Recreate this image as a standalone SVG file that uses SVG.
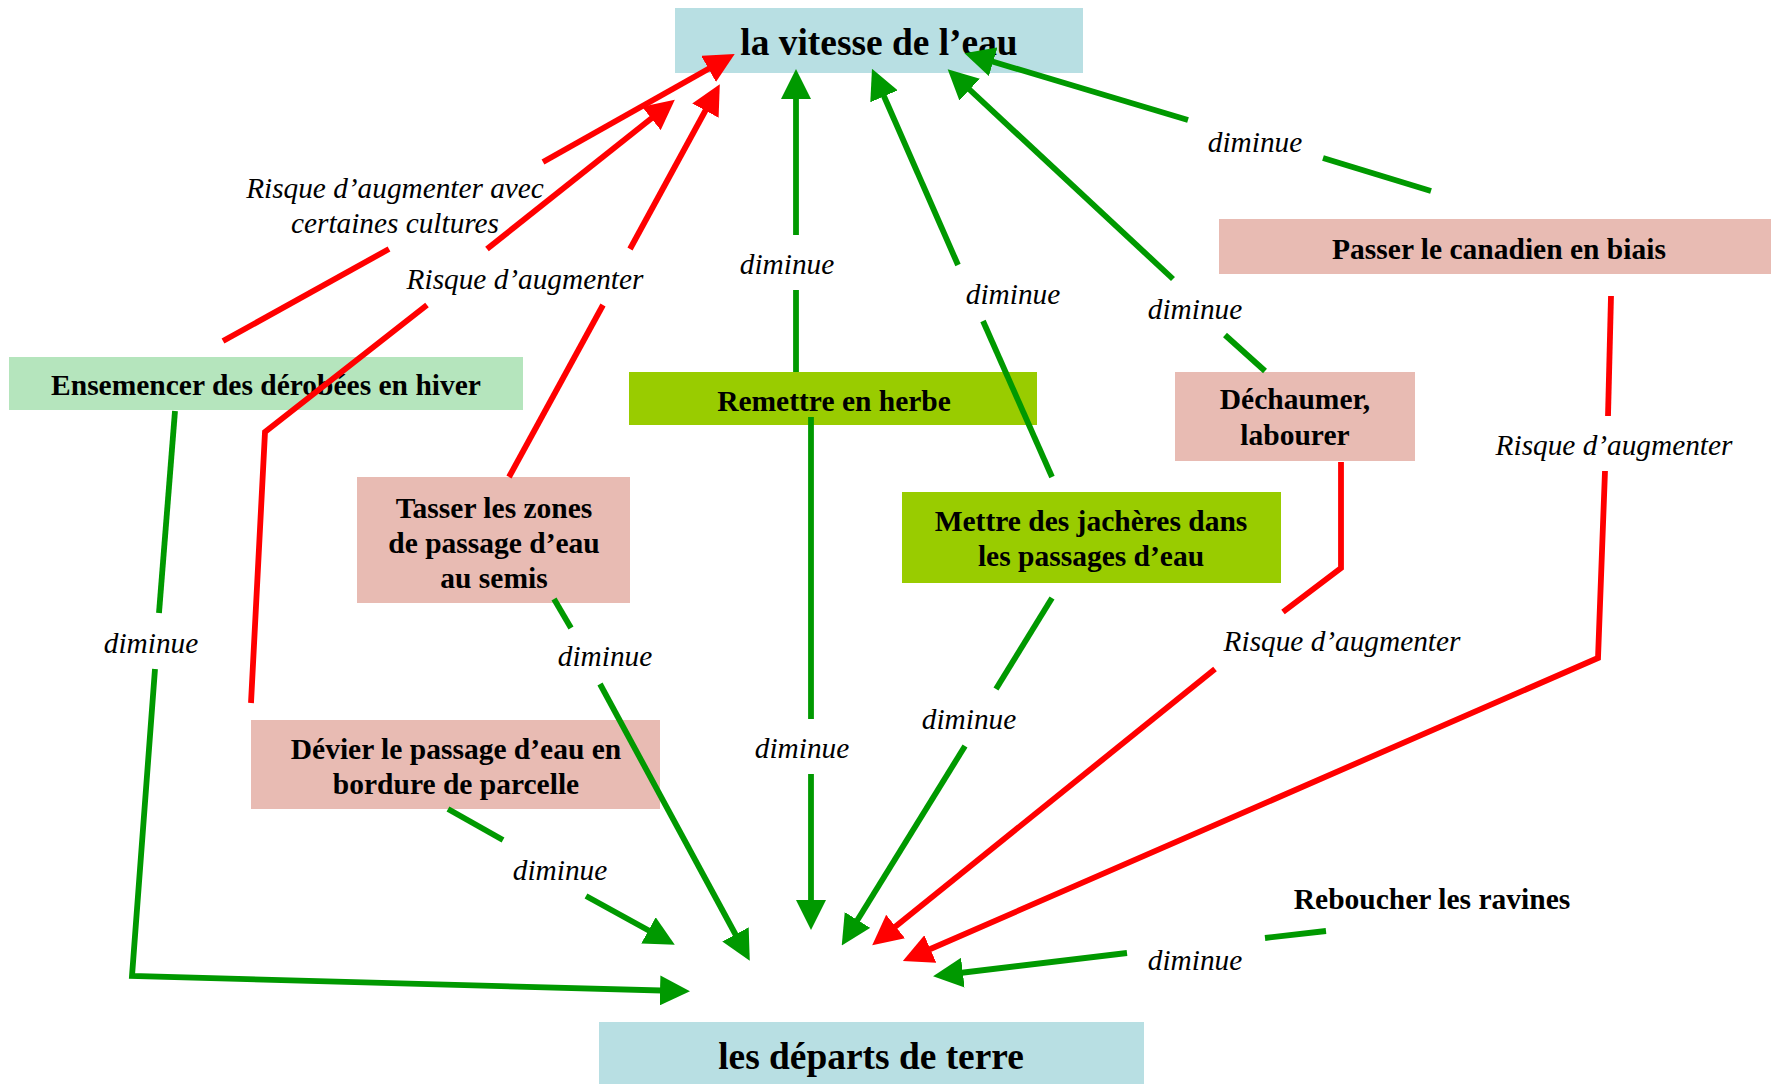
<svg xmlns="http://www.w3.org/2000/svg" width="1771" height="1084" viewBox="0 0 1771 1084">
  <style>
    .node-text { font-family: "Liberation Serif", "Times New Roman", serif; font-weight: bold; font-size: 29.5px; fill: #000; text-anchor: middle; }
    .main-text { font-family: "Liberation Serif", "Times New Roman", serif; font-weight: bold; font-size: 37.4px; fill: #000; text-anchor: middle; }
    .lbl { font-family: "Liberation Serif", "Times New Roman", serif; font-style: italic; font-size: 29.3px; fill: #000; text-anchor: middle; }
    .blue { fill: #B8DFE3; }
    .pink { fill: #E8BBB3; }
    .lgreen { fill: #B5E5BD; }
    .ygreen { fill: #99CC00; }
    .g { fill: none; stroke: #009900; stroke-width: 5.8; }
    .r { fill: none; stroke: #FF0000; stroke-width: 5.8; }
    .ga { marker-end: url(#ag); }
    .ra { marker-end: url(#ar); }
  </style>
  <defs>
    <marker id="ag" markerUnits="userSpaceOnUse" markerWidth="30" markerHeight="30" viewBox="0 0 30 30" refX="20" refY="15" orient="auto">
      <path d="M0,0 L30,15 L0,30 z" fill="#009900"/>
    </marker>
    <marker id="ar" markerUnits="userSpaceOnUse" markerWidth="30" markerHeight="30" viewBox="0 0 30 30" refX="20" refY="15" orient="auto">
      <path d="M0,0 L30,15 L0,30 z" fill="#FF0000"/>
    </marker>
  </defs>
  <rect width="1771" height="1084" fill="#FFFFFF"/>

  <g id="node-vitesse">
    <rect class="blue" x="675" y="8" width="408" height="65"/>
    <text class="main-text" x="879" y="55">la vitesse de l’eau</text>
  </g>
  <g id="node-departs">
    <rect class="blue" x="599" y="1022" width="545" height="62"/>
    <text class="main-text" x="871" y="1069">les départs de terre</text>
  </g>
  <g id="node-ensemencer">
    <rect class="lgreen" x="9" y="357" width="514" height="53"/>
    <text class="node-text" x="266" y="395">Ensemencer des dérobées en hiver</text>
  </g>
  <g id="node-remettre">
    <rect class="ygreen" x="629" y="372" width="408" height="53"/>
    <text class="node-text" x="834" y="411">Remettre en herbe</text>
  </g>
  <g id="node-tasser">
    <rect class="pink" x="357" y="477" width="273" height="126"/>
    <text class="node-text" x="494" y="518">Tasser les zones</text>
    <text class="node-text" x="494" y="553">de passage d’eau</text>
    <text class="node-text" x="494" y="588">au semis</text>
  </g>
  <g id="node-devier">
    <rect class="pink" x="251" y="720" width="409" height="89"/>
    <text class="node-text" x="456" y="759">Dévier le passage d’eau en</text>
    <text class="node-text" x="456" y="794">bordure de parcelle</text>
  </g>
  <g id="node-jacheres">
    <rect class="ygreen" x="902" y="492" width="379" height="91"/>
    <text class="node-text" x="1091" y="531">Mettre des jachères dans</text>
    <text class="node-text" x="1091" y="566">les passages d’eau</text>
  </g>
  <g id="node-dechaumer">
    <rect class="pink" x="1175" y="372" width="240" height="89"/>
    <text class="node-text" x="1295" y="409">Déchaumer,</text>
    <text class="node-text" x="1295" y="445">labourer</text>
  </g>
  <g id="node-canadien">
    <rect class="pink" x="1219" y="219" width="552" height="55"/>
    <text class="node-text" x="1499" y="259">Passer le canadien en biais</text>
  </g>
  <g id="node-reboucher">
    <text class="node-text" x="1432" y="909">Reboucher les ravines</text>
  </g>

  <g id="connectors">
    <!-- Ensemencer -> vitesse (red) -->
    <path class="r" d="M223,341 L389,249"/>
    <path class="r ra" d="M543,162 L726,59"/>
    <text class="lbl" x="395" y="198">Risque d’augmenter avec</text>
    <text class="lbl" x="395" y="233">certaines cultures</text>
    <!-- Devier -> vitesse (red) -->
    <path class="r" d="M251,703 L265,432 L427,305"/>
    <path class="r ra" d="M487,249 L667,106"/>
    <!-- Tasser -> vitesse (red) -->
    <path class="r" d="M509,477 L603,305"/>
    <path class="r ra" d="M630,249 L715,93"/>
    <text class="lbl" x="525" y="289">Risque d’augmenter</text>
    <!-- Remettre -> vitesse -->
    <path class="g" d="M796,372 L796,290"/>
    <path class="g ga" d="M796,235 L796,79"/>
    <text class="lbl" x="787" y="274">diminue</text>
    <!-- Remettre -> departs -->
    <path class="g" d="M811,417 L811,719"/>
    <path class="g ga" d="M811,774 L811,920"/>
    <text class="lbl" x="802" y="758">diminue</text>
    <!-- Jacheres -> vitesse -->
    <path class="g" d="M1052,477 L983,321"/>
    <path class="g ga" d="M958,265 L876,78"/>
    <text class="lbl" x="1013" y="304">diminue</text>
    <!-- Dechaumer -> vitesse -->
    <path class="g" d="M1265,371 L1225,335"/>
    <path class="g ga" d="M1173,279 L955,76"/>
    <text class="lbl" x="1195" y="319">diminue</text>
    <!-- Canadien -> vitesse -->
    <path class="g" d="M1431,191 L1323,158"/>
    <path class="g ga" d="M1188,120 L974,56"/>
    <text class="lbl" x="1255" y="152">diminue</text>
    <!-- Ensemencer -> departs -->
    <path class="g" d="M175,411 L159,613"/>
    <path class="g ga" d="M155,669 L132,976 L680,991"/>
    <text class="lbl" x="151" y="653">diminue</text>
    <!-- Tasser -> departs -->
    <path class="g" d="M554,599 L571,628"/>
    <path class="g ga" d="M600,684 L745,952"/>
    <text class="lbl" x="605" y="666">diminue</text>
    <!-- Devier -> departs -->
    <path class="g" d="M448,809 L503,840"/>
    <path class="g ga" d="M586,896 L666,940"/>
    <text class="lbl" x="560" y="880">diminue</text>
    <!-- Jacheres -> departs -->
    <path class="g" d="M1052,598 L996,689"/>
    <path class="g ga" d="M965,746 L847,937"/>
    <text class="lbl" x="969" y="729">diminue</text>
    <!-- Dechaumer -> departs (red) -->
    <path class="r" d="M1341,462 L1341,568 L1283,612"/>
    <path class="r ra" d="M1215,669 L880,939"/>
    <text class="lbl" x="1342" y="651">Risque d’augmenter</text>
    <!-- Canadien -> departs (red) -->
    <path class="r" d="M1611,296 L1608,416"/>
    <path class="r ra" d="M1605,471 L1598,658 L912,957"/>
    <text class="lbl" x="1614" y="455">Risque d’augmenter</text>
    <!-- Reboucher -> departs -->
    <path class="g" d="M1326,931 L1265,938"/>
    <path class="g ga" d="M1127,953 L943,975"/>
    <text class="lbl" x="1195" y="970">diminue</text>
  </g>
</svg>
